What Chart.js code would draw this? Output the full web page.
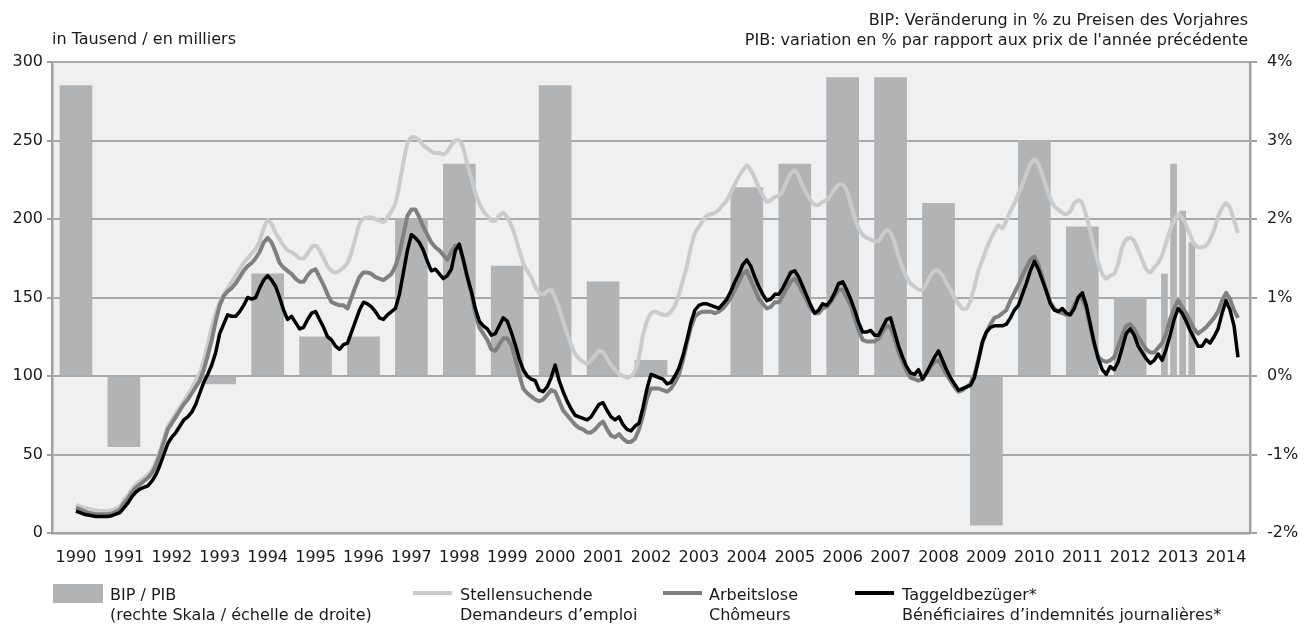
<!DOCTYPE html>
<html>
<head>
<meta charset="utf-8">
<script src="https://cdn.jsdelivr.net/npm/chart.js@4.4.1/dist/chart.umd.min.js"></script>
<style>
  body { margin: 0; background: #fff; font-family: "DejaVu Sans", sans-serif; color: #1a1a1a; }
  #wrap { position: relative; width: 1314px; height: 628px; overflow: hidden; }
  canvas { position: absolute; left: 0; top: 0; }
  .t { position: absolute; font-size: 16px; line-height: 20px; white-space: nowrap; }
  .key { position: absolute; }
</style>
</head>
<body>
<div id="wrap">
  <canvas id="chart" width="1314" height="628"></canvas>

  <div class="t" style="left:52px; top:29px;">in Tausend / en milliers</div>
  <div class="t" style="right:66px; top:10px; text-align:right;">BIP: Veränderung in % zu Preisen des Vorjahres<br>PIB: variation en % par rapport aux prix de l'année précédente</div>

  <!-- legende -->
  <div class="key" style="left:53px; top:584px; width:50px; height:19px; background:#b2b3b5;"></div>
  <div class="t" style="left:110px; top:585px;">BIP / PIB<br>(rechte Skala / échelle de droite)</div>
  <div class="key" style="left:413px; top:591px; width:39px; height:4px; background:#cbcbcb;"></div>
  <div class="t" style="left:460px; top:585px;">Stellensuchende<br>Demandeurs d’emploi</div>
  <div class="key" style="left:663px; top:591px; width:39px; height:4px; background:#808080;"></div>
  <div class="t" style="left:709px; top:585px;">Arbeitslose<br>Chômeurs</div>
  <div class="key" style="left:855px; top:591px; width:39px; height:4px; background:#000;"></div>
  <div class="t" style="left:902px; top:585px;">Taggeldbezüger*<br>Bénéficiaires d’indemnités journalières*</div>
</div>

<script>
// Jahres-Labels der x-Achse
const years = [1990, 1991, 1992, 1993, 1994, 1995, 1996, 1997, 1998, 1999, 2000, 2001,
  2002, 2003, 2004, 2005, 2006, 2007, 2008, 2009, 2010, 2011, 2012, 2013, 2014];

// BIP in % (rechte Skala), jaehrlich 1990-2012
const gdpYears = [1990, 1991, 1992, 1993, 1994, 1995, 1996, 1997, 1998, 1999, 2000, 2001,
  2002, 2003, 2004, 2005, 2006, 2007, 2008, 2009, 2010, 2011, 2012];
const gdpAnnual = [3.7, -0.9, 0, -0.1, 1.3, 0.5, 0.5, 2.0, 2.7, 1.4, 3.7, 1.2,
  0.2, 0, 2.4, 2.7, 3.8, 3.8, 2.2, -1.9, 3.0, 1.9, 1.0];

// 2013 quartalsweise
const gdpQuarters2013 = ['Q1', 'Q2', 'Q3', 'Q4'];
const gdpQuarterly2013 = [1.3, 2.7, 2.1, 1.7];

// Monatswerte in Tausend, ab Januar 1990
const startYear = 1990;

const stellensuchende = [
  18, 17, 16, 15.5, 15, 14.5, 14, 14, 14, 14.5, 15.5, 17,
  21, 24, 28, 31, 33, 35, 37, 40, 45, 52, 60, 68,
  72, 76, 80, 84, 88, 92, 97, 102, 110, 120, 131, 140,
  147, 152, 156, 160, 164, 168, 172, 175, 178, 181, 186, 194,
  199, 197, 191, 187, 183, 180, 179, 177, 175, 175, 178, 182,
  183, 180, 175, 170, 167, 166, 167, 169, 172, 179, 188, 197,
  200, 201, 201, 200, 199, 198, 201, 205, 210, 222, 236, 248,
  252, 252, 250, 247, 245, 243, 242, 242, 241, 243, 247, 250,
  250, 245, 235, 226, 217, 210, 205, 202, 199, 199, 202, 204,
  201, 196, 189, 180, 172, 167, 163, 157, 153, 152, 154, 155,
  150, 143, 135, 127, 120, 114, 111, 109, 108, 110, 113, 116,
  115, 111, 107, 104, 101, 100, 99, 100, 103, 112, 126, 135,
  140, 141, 140, 139, 139, 141, 145, 152, 161, 170, 182, 191,
  195, 199, 202, 203, 204, 206, 209, 212, 217, 222, 227, 231,
  234, 231, 226, 220, 215, 211, 212, 214, 215, 218, 224, 229,
  231, 227, 221, 216, 212, 209, 209, 211, 212, 215, 219, 222,
  222, 218, 210, 201, 194, 190, 188, 187, 186, 186, 190, 193,
  191, 185, 176, 169, 163, 159, 157, 155, 155, 159, 164, 167,
  167, 164, 159, 155, 150, 146, 143, 143, 148, 157, 167, 174,
  181, 187, 192, 196, 194, 199, 205, 210, 216, 222, 229, 235,
  238, 235, 228, 220, 213, 208, 206, 204, 203, 205, 210, 212,
  210, 202, 192, 181, 172, 165, 162, 164, 165, 172, 182, 187,
  188, 186, 180, 174, 168, 166, 169, 172, 177, 185, 193, 199,
  203, 201, 196, 190, 184, 182, 182, 183, 187, 193, 201, 207,
  210, 207, 199, 191
];

const arbeitslose = [
  16, 15, 14, 13, 12.5, 12, 12, 12, 12, 12.5, 13.5, 15,
  19, 22, 26, 29, 31, 33, 35, 38, 43, 50, 58, 66,
  70, 74, 78, 82, 85, 89, 93, 97, 104, 113, 123, 135,
  145, 151, 154, 156, 159, 163, 167, 170, 172, 175, 179, 185,
  188, 185, 179, 172, 169, 167, 165, 162, 160, 160, 164, 167,
  168, 163, 158, 152, 147, 146, 145, 145, 143, 150, 157, 163,
  166, 166, 165, 163, 162, 161, 163, 165, 170, 178, 190, 202,
  206, 206, 201, 195, 190, 185, 182, 180, 177, 174, 179, 183,
  183, 174, 163, 153, 140, 131, 127, 123, 117, 116, 120, 124,
  124, 120, 111, 101, 92, 89, 87, 85, 84, 85, 88, 91,
  90, 84, 78, 75, 72, 69, 67, 66, 64, 64, 66, 69,
  71, 66, 62, 61, 63, 60, 58, 58, 60, 66, 75, 86,
  92, 92, 92, 91, 90, 92, 96, 101, 110, 121, 131, 138,
  140, 141, 141, 141, 140, 141, 143, 146, 150, 155, 160, 165,
  167, 161, 155, 149, 146, 143, 144, 147, 147, 151, 156, 160,
  162, 158, 153, 148, 143, 140, 140, 143, 144, 147, 151, 155,
  155, 150, 145, 137, 129, 123, 122, 122, 122, 124, 128, 132,
  131, 124, 115, 109, 103, 99, 98, 97, 98, 102, 106, 109,
  110, 106, 101, 97, 93, 90, 91, 93, 95, 101, 111, 121,
  128, 133, 137, 138, 140, 142, 148, 153, 158, 164, 169, 174,
  176, 171, 163, 154, 147, 143, 141, 140, 139, 139, 145, 150,
  149, 143, 131, 120, 112, 110, 109, 110, 112, 119, 126, 132,
  133, 130, 125, 121, 117, 115, 115, 118, 121, 127, 136, 143,
  148, 144, 140, 135, 130, 127, 129, 131, 134, 137, 141, 148,
  153, 149, 142, 137
];

const taggeldbezueger = [
  14, 13, 12, 11.5, 11, 10.5, 10.5, 10.5, 10.5, 11, 12, 13,
  16, 19, 23, 26, 28, 29, 30, 33, 37, 43, 50, 57,
  61, 64, 68, 72, 74, 77, 82, 89, 96, 101, 107, 115,
  127, 133, 139, 138, 138, 141, 145, 150, 149, 150, 156, 161,
  164, 161, 157, 150, 142, 136, 138, 134, 130, 131, 136, 140,
  141, 136, 131, 125, 123, 119, 117, 120, 121, 128, 135, 142,
  147, 146, 144, 141, 137, 136, 139, 141, 143, 152, 166, 180,
  190, 188, 185, 180, 173, 167, 168, 165, 162, 164, 168, 180,
  184, 174, 163, 154, 143, 135, 132, 130, 126, 127, 132, 137,
  135, 128, 120, 111, 104, 100, 98, 97, 91, 90, 93, 99,
  107, 97, 90, 84, 79, 75, 74, 73, 72, 74, 78, 82,
  83, 78, 74, 72, 74, 69, 66, 65, 68, 70, 80, 92,
  101, 100, 99, 98, 95, 96, 100, 105, 113, 123, 134, 142,
  145, 146, 146, 145, 144, 143, 146, 149, 154, 160, 165, 171,
  174, 170, 163, 157, 152, 148, 149, 152, 152, 156, 161, 166,
  167, 163, 157, 151, 145, 140, 142, 146, 145, 148, 153, 159,
  160, 155, 149, 142, 134, 128, 128, 129, 126, 126, 131, 136,
  137, 128, 119, 112, 106, 102, 101, 104, 98, 102, 107, 112,
  116, 110, 104, 99, 95, 91, 92, 93, 94, 99, 110, 122,
  128, 131, 132, 132, 132, 133, 137, 142, 145, 152, 159, 167,
  173, 168, 161, 154, 146, 142, 141, 143, 140, 139, 143, 150,
  153, 145, 133, 121, 111, 104, 101, 106, 104, 109, 118, 127,
  130, 126, 119, 115, 111, 108, 110, 114, 110, 117, 126, 136,
  143, 140, 135, 129, 124, 119, 119, 123, 121, 125, 130, 140,
  148, 142, 132, 112
];

const FONT = { family: 'DejaVu Sans', size: 16 };
const TEXT = '#1a1a1a';
const AXIS = '#a0a0a0';
const GRID = '#a9a9a9';

// Monatsreihe -> {x: Jahr + Monat/12, y}
function monthly(arr) {
  return arr.map((v, i) => ({ x: startYear + i / 12, y: v }));
}

const annualBars = gdpYears.map((yr, i) => ({ x: yr, y: gdpAnnual[i] }));
const quarterBars = gdpQuarters2013.map((q, i) => ({ x: 2013 + (i - 1.5) * 0.19, y: gdpQuarterly2013[i] }));

const plotBg = {
  id: 'plotBg',
  beforeDraw(chart) {
    const { ctx, chartArea: a } = chart;
    ctx.save();
    ctx.fillStyle = '#f0f0f0';
    ctx.fillRect(a.left, a.top, a.right - a.left, a.bottom - a.top);
    ctx.restore();
  }
};

new Chart(document.getElementById('chart'), {
  type: 'bar',
  data: {
    datasets: [
      {
        type: 'line', label: 'Taggeldbezüger', data: monthly(taggeldbezueger),
        borderColor: '#000', borderWidth: 3.5, pointRadius: 0, tension: 0,
        borderJoinStyle: 'round', yAxisID: 'y', order: 1
      },
      {
        type: 'line', label: 'Arbeitslose', data: monthly(arbeitslose),
        borderColor: '#808080', borderWidth: 4, pointRadius: 0, tension: 0,
        borderJoinStyle: 'round', yAxisID: 'y', order: 2
      },
      {
        type: 'line', label: 'Stellensuchende', data: monthly(stellensuchende),
        borderColor: '#cbcbcb', borderWidth: 4, pointRadius: 0, tension: 0.2,
        borderJoinStyle: 'round', yAxisID: 'y', order: 3
      },
      {
        label: 'BIP / PIB', data: annualBars, backgroundColor: '#b2b3b5',
        barThickness: 32, grouped: false, yAxisID: 'y2', order: 10
      },
      {
        label: 'BIP 2013', data: quarterBars, backgroundColor: '#b2b3b5',
        barThickness: 6, grouped: false, yAxisID: 'y2', order: 11
      }
    ]
  },
  options: {
    responsive: false,
    devicePixelRatio: 1,
    animation: false,
    layout: { padding: { top: 62, left: 0, right: 0, bottom: 0 } },
    plugins: { legend: { display: false }, tooltip: { enabled: false } },
    scales: {
      x: {
        type: 'linear', min: 1989.5, max: 2014.5, offset: false,
        grid: { display: false, drawTicks: false, offset: false },
        border: { display: true, color: AXIS, width: 2.5 },
        ticks: { autoSkip: false, maxRotation: 0, padding: 15, font: FONT, color: TEXT,
          callback: v => String(v) },
        afterBuildTicks(s) { s.ticks = years.map(v => ({ value: v })); },
        afterFit(s) { s.height = 95; }
      },
      y: {
        position: 'left', min: 0, max: 300,
        ticks: { stepSize: 50, padding: 4, font: FONT, color: TEXT },
        grid: { color: GRID, lineWidth: 2, tickLength: 5, tickColor: AXIS },
        border: { display: true, color: AXIS, width: 2.5 },
        afterFit(s) { s.width = 52; }
      },
      y2: {
        position: 'right', min: -2, max: 4,
        ticks: { stepSize: 1, padding: 10, font: FONT, color: TEXT, callback: v => v + '%' },
        grid: { drawOnChartArea: false, tickLength: 7, tickColor: AXIS, lineWidth: 2 },
        border: { display: true, color: AXIS, width: 2.5 },
        afterFit(s) { s.width = 64; }
      }
    }
  },
  plugins: [plotBg]
});
</script>
</body>
</html>
